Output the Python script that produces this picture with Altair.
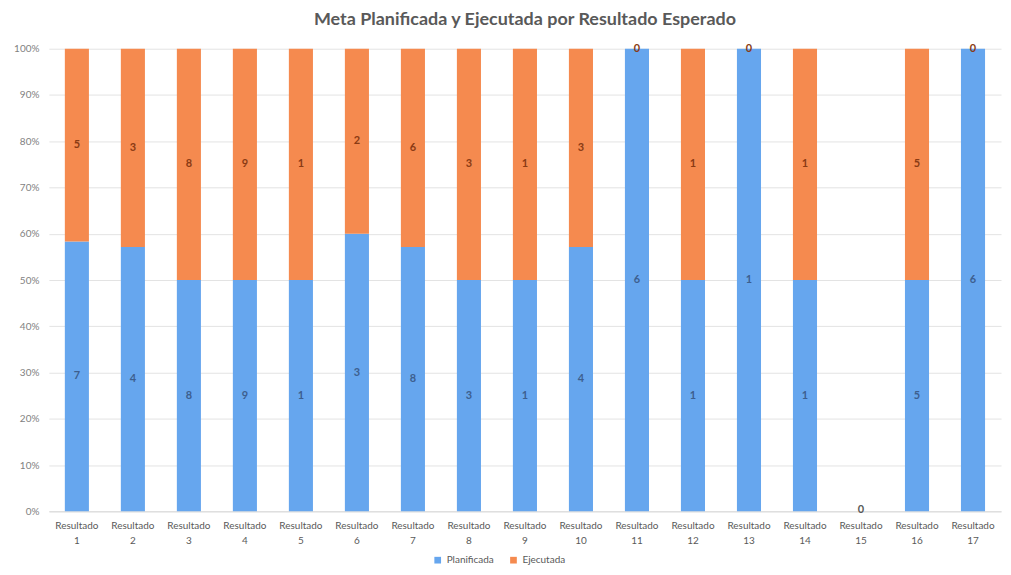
import altair as alt
import pandas as pd

categorias = ["Resultado 1", "Resultado 2", "Resultado 3", "Resultado 4", "Resultado 5",
              "Resultado 6", "Resultado 7", "Resultado 8", "Resultado 9", "Resultado 10",
              "Resultado 11", "Resultado 12", "Resultado 13", "Resultado 14", "Resultado 15",
              "Resultado 16", "Resultado 17"]
planificada = [7, 4, 8, 9, 1, 3, 8, 3, 1, 4, 6, 1, 1, 1, 0, 5, 6]
ejecutada = [5, 3, 8, 9, 1, 2, 6, 3, 1, 3, 0, 1, 0, 1, 0, 5, 0]
series = ["Planificada", "Ejecutada"]
colores = ["#66a6ee", "#f58a4f"]
ticks_y = [0, 0.1, 0.2, 0.3, 0.4, 0.5, 0.6, 0.7, 0.8, 0.9, 1.0]

rows = []
for c, p, e in zip(categorias, planificada, ejecutada):
    t = p + e
    for s, v, start in ((series[0], p, 0), (series[1], e, p)):
        if t > 0:
            y0 = start / t
            y1 = (start + v) / t
            mid = (start + v / 2) / t
        else:
            y0 = y1 = mid = 0.0
        rows.append({"cat": c, "serie": s, "valor": v, "y0": y0, "y1": y1,
                     "mid": mid, "total": t})
df = pd.DataFrame(rows)

FONT = "Lato"
xenc = alt.X("cat:N", sort=categorias, title=None,
             scale=alt.Scale(paddingInner=0.57, paddingOuter=0.285),
             axis=alt.Axis(labelExpr="split(datum.value, ' ')", labelAngle=0,
                           ticks=False, domain=True, domainColor="#d9d9d9",
                           labelColor="#595959", labelFontSize=10, labelFont=FONT,
                           labelPadding=9, labelLineHeight=15))
yscale = alt.Scale(domain=[0, 1], nice=False)

bars = alt.Chart(df).mark_bar().encode(
    x=xenc,
    y=alt.Y("y0:Q", scale=yscale, title=None,
            axis=alt.Axis(format=".0%", values=ticks_y, domain=False, ticks=False,
                          gridColor="#e3e3e3", labelColor="#7f7f7f",
                          labelFontSize=10, labelFont=FONT, labelPadding=10)),
    y2="y1:Q",
    color=alt.Color("serie:N", sort=series,
                    scale=alt.Scale(domain=series, range=colores),
                    legend=alt.Legend(title=None, orient="none", direction="horizontal",
                                      legendX=385, legendY=508,
                                      symbolType="square", symbolSize=45,
                                      labelFontSize=10, labelFont=FONT,
                                      labelColor="#595959", columnPadding=14)),
)

txt_plan = alt.Chart(df).transform_filter(
    "datum.total > 0 && datum.serie == 'Planificada'"
).mark_text(fontSize=11, fontWeight="bold", font=FONT, color="#3d5f8f").encode(
    x=alt.X("cat:N", sort=categorias), y=alt.Y("mid:Q", scale=yscale), text="valor:Q")

txt_ejec = alt.Chart(df).transform_filter(
    "datum.total > 0 && datum.serie == 'Ejecutada'"
).mark_text(fontSize=11, fontWeight="bold", font=FONT, color="#8a3b14").encode(
    x=alt.X("cat:N", sort=categorias), y=alt.Y("mid:Q", scale=yscale), text="valor:Q")

txt_zero = alt.Chart(df).transform_filter(
    "datum.total == 0 && datum.serie == 'Ejecutada'"
).mark_text(fontSize=11, fontWeight="bold", font=FONT, color="#595959", dy=-1).encode(
    x=alt.X("cat:N", sort=categorias), y=alt.Y("mid:Q", scale=yscale), text="valor:Q")

chart = alt.layer(bars, txt_plan, txt_ejec, txt_zero).properties(
    width=955, height=464,
    title=alt.TitleParams("Meta Planificada y Ejecutada por Resultado Esperado",
                          fontSize=18, font=FONT, fontWeight="bold", color="#595959",
                          anchor="middle", offset=14),
    padding={"left": 5, "right": 2, "top": 2, "bottom": 0},
).configure_view(stroke=None)

chart.save("out.html", embed_options={"renderer": "svg", "actions": False})
